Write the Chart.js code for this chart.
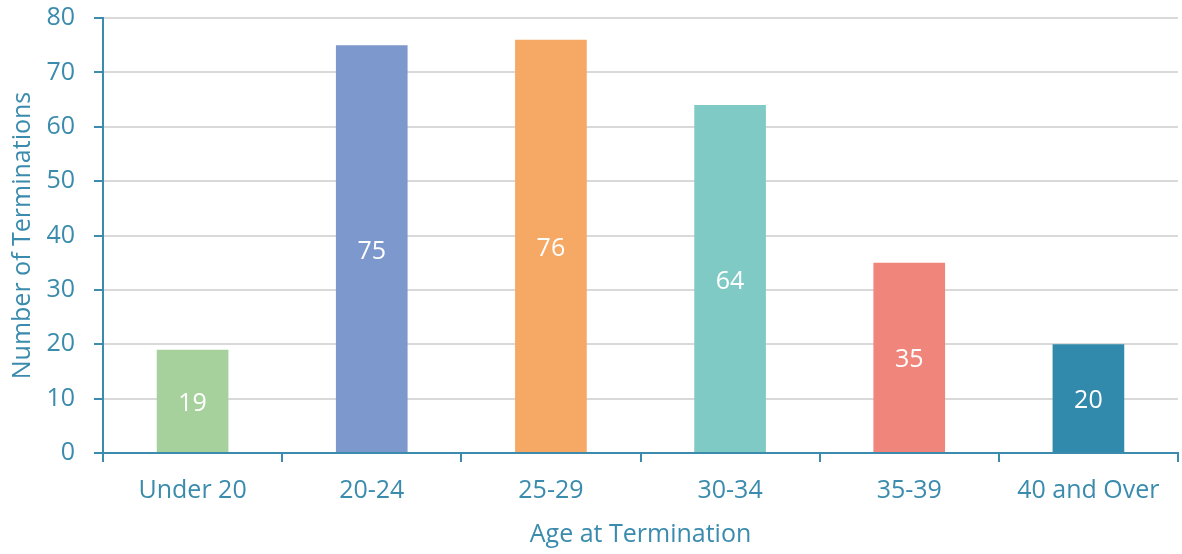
<!DOCTYPE html>
<html>
<head>
<meta charset="utf-8">
<script src="https://cdn.jsdelivr.net/npm/chart.js@4"></script>
<style>
  body { margin: 0; background: white; }
  #wrap { width: 1182px; height: 554px; }
</style>
</head>
<body>
<div id="wrap"><canvas id="chartAge"></canvas></div>
<script>
const ageGroups = ["Under 20", "20-24", "25-29", "30-34", "35-39", "40 and Over"];
const terminations = [19, 75, 76, 64, 35, 20];
const barColors = ["#A6D19D", "#7C98CD", "#F5A965", "#80CAC6", "#F0857B", "#318AAB"];

const axisColor = "#3A8BAD";
const fontName = "Open Sans";
const fontSize = 25;

// white numbers in the middle of each bar
const barLabels = {
  id: "barLabels",
  afterDatasetsDraw(chart) {
    const ctx = chart.ctx;
    const meta = chart.getDatasetMeta(0);
    ctx.save();
    ctx.fillStyle = "white";
    ctx.font = fontSize + "px " + fontName;
    ctx.textAlign = "center";
    ctx.textBaseline = "middle";
    meta.data.forEach((bar, i) => {
      const mid = (bar.y + bar.base) / 2 + 3;
      ctx.fillText(terminations[i], bar.x, mid);
    });
    ctx.restore();
  },
};

new Chart(document.getElementById("chartAge").getContext("2d"), {
  type: "bar",
  data: {
    labels: ageGroups,
    datasets: [
      {
        label: "Terminations",
        data: terminations,
        backgroundColor: barColors,
        categoryPercentage: 1.0,
        barPercentage: 0.4,
      },
    ],
  },
  options: {
    responsive: true,
    maintainAspectRatio: false,
    animation: false,
    layout: { padding: { top: 0, right: 4, left: 4, bottom: 0 } },
    scales: {
      x: {
        afterFit(scale) {
          scale.height = 101;
        },
        grid: {
          offset: true,
          drawOnChartArea: false,
          drawTicks: true,
          tickLength: 9,
          tickColor: axisColor,
          lineWidth: 2,
        },
        border: { color: axisColor, width: 2 },
        ticks: {
          color: axisColor,
          font: { family: fontName, size: fontSize },
          padding: 14,
          minRotation: 0,
          maxRotation: 0,
          autoSkip: false,
        },
        title: {
          display: true,
          text: "Age at Termination",
          color: axisColor,
          font: { family: fontName, size: fontSize },
          padding: { top: 5 },
        },
      },
      y: {
        min: 0,
        max: 80,
        afterFit(scale) {
          scale.width = 99;
          scale.paddingTop = 18;
        },
        ticks: {
          stepSize: 10,
          color: axisColor,
          font: { family: fontName, size: fontSize },
          padding: 19,
        },
        grid: {
          color: "#D9D9D9",
          lineWidth: 2,
          tickLength: 9,
          tickColor: axisColor,
        },
        border: { color: axisColor, width: 2 },
        title: {
          display: true,
          text: "Number of Terminations",
          color: axisColor,
          font: { family: fontName, size: fontSize },
          padding: { top: 4, bottom: 8 },
        },
      },
    },
    plugins: {
      legend: { display: false },
      tooltip: { enabled: false },
    },
  },
  plugins: [barLabels],
});
</script>
</body>
</html>
